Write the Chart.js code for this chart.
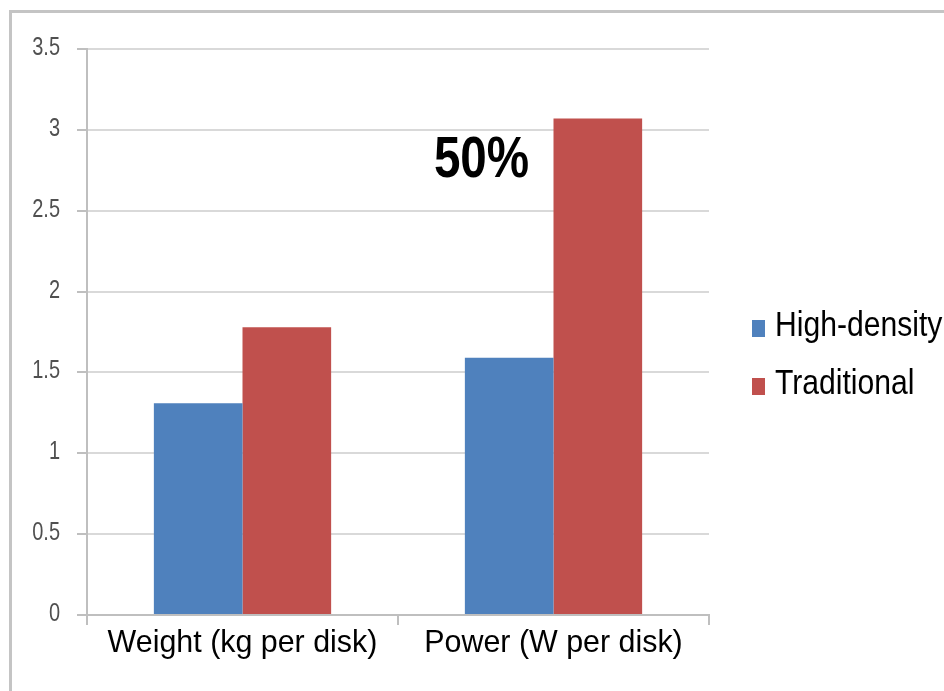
<!DOCTYPE html>
<html>
<head>
<meta charset="utf-8">
<script src="https://cdn.jsdelivr.net/npm/chart.js@4/dist/chart.umd.min.js"></script>
<style>
  html, body { margin: 0; padding: 0; background: #fff; overflow: hidden; }
  #frame { position: absolute; left: 9px; top: 10px; width: 1000px; height: 1000px; border: 3px solid #c4c4c4; }
  #wrap { position: absolute; left: 0; top: 0; width: 944px; height: 691px; }
</style>
</head>
<body>
<div id="frame"></div>
<div id="wrap"><canvas id="chart" width="944" height="691"></canvas></div>
<script>
const categories = ['Weight (kg per disk)', 'Power (W per disk)'];
const highDensity = [1.31, 1.59];
const traditional = [1.78, 3.07];
const seriesNames = ['High-density', 'Traditional'];
const seriesColors = ['#4F81BD', '#C0504D'];
const yTicks = [0, 0.5, 1, 1.5, 2, 2.5, 3, 3.5];
const callout = '50%';

const sans = '"Liberation Sans", Arial, sans-serif';

// text squeezed horizontally, the source picture is narrower than its fonts
function squeezed(ctx, text, x, y, sx) {
  ctx.save();
  ctx.translate(x, y);
  ctx.scale(sx, 1);
  ctx.fillText(text, 0, 0);
  ctx.restore();
}

// axis labels, the "50%" note and the legend
const extras = {
  id: 'extras',
  afterDraw(chart) {
    const ctx = chart.ctx;
    const x = chart.scales.x, y = chart.scales.y;
    const area = chart.chartArea;
    ctx.save();
    ctx.textBaseline = 'alphabetic';

    ctx.fillStyle = '#505050';
    ctx.font = '25px ' + sans;
    ctx.textAlign = 'right';
    y.ticks.forEach(t => {
      squeezed(ctx, String(t.value), area.left - 27, y.getPixelForValue(t.value) + 6, 0.8);
    });

    ctx.fillStyle = '#000';
    ctx.font = '32px ' + sans;
    ctx.textAlign = 'center';
    chart.data.labels.forEach((lab, i) => {
      squeezed(ctx, lab, x.getPixelForValue(i), area.bottom + 37, 0.95);
    });

    ctx.font = 'bold 58px ' + sans;
    squeezed(ctx, callout, x.getPixelForValue(1) - 72, y.getPixelForValue(2.71), 0.82);

    ctx.font = '35px ' + sans;
    ctx.textAlign = 'left';
    chart.data.datasets.forEach((ds, i) => {
      const base = 336 + i * 58;
      ctx.fillStyle = ds.backgroundColor;
      ctx.fillRect(area.right + 43, base - 16, 13, 17);
      ctx.fillStyle = '#000';
      squeezed(ctx, ds.label, area.right + 66, base, 0.86);
    });
    ctx.restore();
  }
};

new Chart(document.getElementById('chart'), {
  type: 'bar',
  data: {
    labels: categories,
    datasets: [
      { label: seriesNames[0], data: highDensity, backgroundColor: seriesColors[0] },
      { label: seriesNames[1], data: traditional, backgroundColor: seriesColors[1] }
    ]
  },
  options: {
    responsive: false,
    animation: false,
    devicePixelRatio: 1,
    categoryPercentage: 0.57,
    barPercentage: 1.0,
    layout: { padding: { left: 0, top: 49, right: 235, bottom: 0 } },
    plugins: {
      legend: { display: false },
      tooltip: { enabled: false }
    },
    scales: {
      x: {
        grid: { drawOnChartArea: false, drawTicks: true, tickLength: 10, color: '#bfbfbf', lineWidth: 2 },
        border: { color: '#bfbfbf', width: 2 },
        ticks: { display: false },
        afterFit(scale) { scale.height = 76; }
      },
      y: {
        min: 0,
        max: 3.5,
        afterBuildTicks(scale) { scale.ticks = yTicks.map(v => ({ value: v })); },
        grid: { color: '#d9d9d9', lineWidth: 2, tickLength: 10, tickColor: '#bfbfbf' },
        border: { color: '#bfbfbf', width: 2 },
        ticks: { display: false },
        afterFit(scale) { scale.width = 87; }
      }
    }
  },
  plugins: [extras]
});
</script>
</body>
</html>
